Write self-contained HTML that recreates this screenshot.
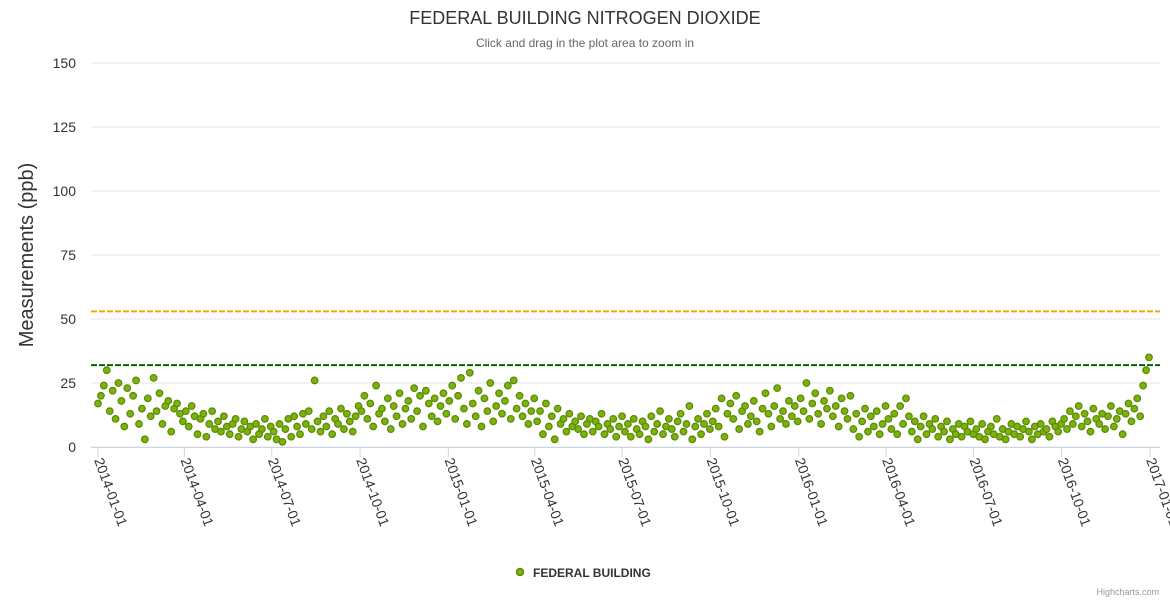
<!DOCTYPE html>
<html><head><meta charset="utf-8"><style>
html,body{margin:0;padding:0;background:#fff;}
svg{display:block;font-family:"Liberation Sans",Arial,sans-serif;}
</style></head><body>
<svg id="chart" width="1170" height="600">
<text x="585" y="24" text-anchor="middle" font-size="18" fill="#333">FEDERAL BUILDING NITROGEN DIOXIDE</text>
<text x="585" y="47" text-anchor="middle" font-size="12" fill="#666">Click and drag in the plot area to zoom in</text>
<text transform="translate(33,255) rotate(-90)" text-anchor="middle" font-size="20" fill="#333">Measurements (ppb)</text>
<g id="grid"></g><g id="xaxis"></g><g id="plotlines"></g><g id="points"></g>
<g>
<circle cx="520" cy="572" r="3.5" fill="#7bb20f" stroke="#5a8a00" stroke-width="1.5"/>
<text x="533" y="577" font-size="12" font-weight="bold" fill="#333">FEDERAL BUILDING</text></g>
<text x="1159" y="595" text-anchor="end" font-size="9" fill="#999">Highcharts.com</text>
</svg>
<script>
const yTicks=[0,25,50,75,100,125,150];
const xTickLabels=["2014-01-01","2014-04-01","2014-07-01","2014-10-01","2015-01-01","2015-04-01","2015-07-01","2015-10-01","2016-01-01","2016-04-01","2016-07-01","2016-10-01","2017-01-01"];
const thresholds=[53,32];
const thresholdColors=["#f5a300","#006400"];
const startDate="2014-01-01";
const stepDays=3.05;
const values=[17,20,24,30,14,22,11,25,18,8,23,13,20,26,9,15,3,19,12,27,14,21,9,16,18,6,15,17,13,10,
14,8,16,12,5,11,13,4,9,14,7,10,6,12,8,5,9,11,4,7,10,6,8,3,9,5,7,11,4,8,
6,3,9,2,7,11,4,12,8,5,13,9,14,7,26,10,6,12,8,14,5,11,9,15,7,13,10,6,12,16,
14,20,11,17,8,24,13,15,10,19,7,16,12,21,9,15,18,11,23,14,20,8,22,17,12,19,10,16,21,13,
18,24,11,20,27,15,9,29,17,12,22,8,19,14,25,10,16,21,13,18,24,11,26,15,20,12,17,9,14,19,
10,14,5,17,8,12,3,15,9,11,6,13,8,10,7,12,5,9,11,6,10,8,13,5,9,7,11,4,8,12,
6,9,4,11,7,5,10,8,3,12,6,9,14,5,8,11,7,4,10,13,6,9,16,3,8,11,5,9,13,7,
10,15,8,19,4,13,17,11,20,7,14,16,9,12,18,10,6,15,21,13,8,16,23,11,14,9,18,12,16,10,
19,14,25,11,17,21,13,9,18,15,22,12,16,8,19,14,11,20,7,13,4,10,15,6,12,8,14,5,9,16,
11,7,13,5,16,9,19,12,6,10,3,8,12,5,9,7,11,4,8,6,10,3,7,5,9,4,8,6,10,5,
7,4,9,3,6,8,5,11,4,7,3,6,9,5,8,4,7,10,6,3,8,5,9,6,7,4,10,8,6,9,
11,7,14,9,12,16,8,13,10,6,15,11,9,13,7,12,16,8,11,14,5,13,17,10,15,19,12,24,30,35];
const NS="http://www.w3.org/2000/svg";
const t0=Date.parse(startDate),t1=Date.parse("2017-01-01");
const x=t=>98+(t-t0)/(t1-t0)*(1150-98);
const y=v=>447-v*(447-63)/150;
const grid=document.getElementById('grid');
yTicks.forEach(v=>{
 const l=document.createElementNS(NS,'line');
 
 
 l.setAttribute('x1',91);l.setAttribute('x2',1160);l.setAttribute('y1',y(v));l.setAttribute('y2',y(v));
 l.setAttribute('stroke','#e6e6e6');grid.appendChild(l);
 const t=document.createElementNS(NS,'text');
 
 
 t.setAttribute('x',76);t.setAttribute('y',y(v)+5);t.setAttribute('text-anchor','end');
 t.setAttribute('font-size','14');t.setAttribute('fill','#333');t.textContent=v;grid.appendChild(t);
});
const xa=document.getElementById('xaxis');
const ax=document.createElementNS(NS,'line');


ax.setAttribute('x1',91);ax.setAttribute('x2',1160);ax.setAttribute('y1',447.5);ax.setAttribute('y2',447.5);ax.setAttribute('stroke','#ccd6eb');xa.appendChild(ax);
xTickLabels.forEach(d=>{
 const px=x(Date.parse(d));
 const tk=document.createElementNS(NS,'line');
 
 
 tk.setAttribute('x1',px);tk.setAttribute('x2',px);tk.setAttribute('y1',447);tk.setAttribute('y2',457);tk.setAttribute('stroke','#ccd6eb');xa.appendChild(tk);
 const t=document.createElementNS(NS,'text');
 
 
 t.setAttribute('transform',`translate(${px-4},${460}) rotate(70)`);
 t.setAttribute('font-size','14');t.setAttribute('fill','#333');t.textContent=d;xa.appendChild(t);
});
const pl=document.getElementById('plotlines');
thresholds.forEach((v,i)=>{
 const l=document.createElementNS(NS,'line');
 
 
 l.setAttribute('x1',91);l.setAttribute('x2',1160);l.setAttribute('y1',y(v));l.setAttribute('y2',y(v));
 l.setAttribute('stroke',thresholdColors[i]);l.setAttribute('stroke-width',2);l.setAttribute('stroke-dasharray','6,2');pl.appendChild(l);
});
const pts=document.getElementById('points');
values.forEach((v,i)=>{
 const c=document.createElementNS(NS,'circle');
 
 
 c.setAttribute('cx',x(t0+i*stepDays*86400000));c.setAttribute('cy',y(v));c.setAttribute('r',3.3);
 c.setAttribute('fill','#7bb20f');c.setAttribute('stroke','#5a8a00');c.setAttribute('stroke-width',1.2);
 pts.appendChild(c);
});
</script>
</body></html>
